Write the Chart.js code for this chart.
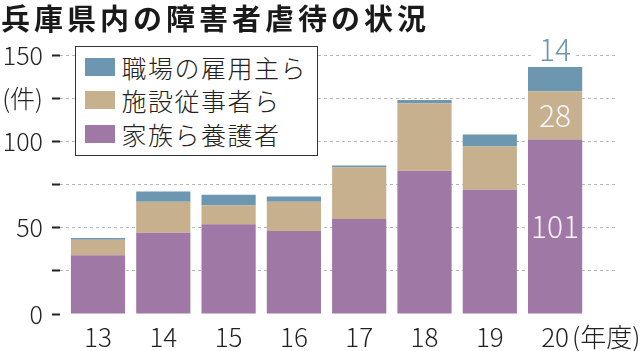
<!DOCTYPE html>
<html lang="ja">
<head>
<meta charset="utf-8">
<script src="https://cdn.jsdelivr.net/npm/chart.js@4.4.1/dist/chart.umd.min.js"></script>
<style>
  html,body{margin:0;padding:0;background:#fff;}
  #wrap{position:relative;width:640px;height:351px;overflow:hidden;font-family:"Noto Sans CJK JP",sans-serif;}
  #chart{position:absolute;left:0;top:0;}
  #title{position:absolute;left:1px;top:-2px;font-size:29px;font-weight:700;letter-spacing:4px;color:#1a1a1a;line-height:38px;white-space:nowrap;}
  #legend{position:absolute;left:75px;top:46px;width:243px;height:110px;box-sizing:border-box;border:1.5px solid #333;background:#fff;padding-top:3px;}
  .row{display:flex;align-items:center;height:33.5px;}
  .sw{width:30px;height:18px;margin-left:8.5px;margin-right:7px;}
  .lbl{font-size:25px;font-weight:300;letter-spacing:1.5px;color:#222;line-height:30px;}
</style>
</head>
<body>
<div id="wrap">
  <canvas id="chart" width="640" height="351"></canvas>
  <div id="title">兵庫県内の障害者虐待の状況</div>
  <div id="legend"></div>
</div>
<script>
// 年度ごとの件数
const years = [13, 14, 15, 16, 17, 18, 19, 20];
const family = [34, 47, 52, 48, 55, 83, 72, 101];   // 家族ら養護者
const facility = [9, 18, 11, 17, 30, 39, 25, 28];   // 施設従事者ら
const employer = [1, 6, 6, 3, 1, 2, 7, 14];         // 職場の雇用主ら

const seriesNames = ['家族ら養護者', '施設従事者ら', '職場の雇用主ら'];
const seriesColors = ['#a078a5', '#c6b08e', '#6d96b0'];

const yTicks = [0, 25, 50, 75, 100, 125, 150];
const yTickLabels = ['0', '', '50', '', '100', '(件)', '150'];

const FONT = '"Noto Sans CJK JP", "Noto Sans", sans-serif';

// legend (top entry = top of the stack)
const elLegend = document.getElementById('legend');
[2, 1, 0].forEach(i => {
  const row = document.createElement('div'); row.className = 'row';
  const sw = document.createElement('span'); sw.className = 'sw'; sw.style.background = seriesColors[i];
  const lb = document.createElement('span'); lb.className = 'lbl'; lb.textContent = seriesNames[i];
  row.appendChild(sw); row.appendChild(lb);
  elLegend.appendChild(row);
});

const pts = arr => arr.map((v, i) => ({ x: years[i], y: v }));

// numbers on the last bar + "(年度)" after the last tick
const valueLabels = {
  id: 'valueLabels',
  afterDatasetsDraw(chart) {
    const ctx = chart.ctx;
    const last = years.length - 1;
    ctx.save();
    ctx.font = '300 30px ' + FONT;
    ctx.textAlign = 'center'; ctx.textBaseline = 'middle';
    chart.data.datasets.forEach((ds, i) => {
      const bar = chart.getDatasetMeta(i).data[last];
      const v = String(ds.data[last].y);
      if (i < 2) {
        ctx.fillStyle = '#fbf5fa';
        ctx.fillText(v, bar.x, (bar.y + bar.base) / 2);
      } else {
        const y = bar.y - 17;
        const w = ctx.measureText(v).width;
        ctx.fillStyle = '#fff';
        ctx.fillRect(bar.x - w / 2 - 5, y - 12, w + 10, 24);
        ctx.fillStyle = seriesColors[2];
        ctx.fillText(v, bar.x, y);
      }
    });
    const xs = chart.scales.x;
    ctx.font = '300 26px ' + FONT; ctx.fillStyle = '#222'; ctx.textAlign = 'left';
    ctx.fillText('(年度)', xs.getPixelForValue(years[last]) + 17, xs.top + 10 + 13);
    ctx.restore();
  }
};

new Chart(document.getElementById('chart').getContext('2d'), {
  type: 'bar',
  data: {
    datasets: [
      { label: seriesNames[0], data: pts(family), backgroundColor: seriesColors[0] },
      { label: seriesNames[1], data: pts(facility), backgroundColor: seriesColors[1] },
      { label: seriesNames[2], data: pts(employer), backgroundColor: seriesColors[2] }
    ]
  },
  options: {
    responsive: false, animation: false,
    datasets: { bar: { barPercentage: 0.83, categoryPercentage: 1, borderWidth: 0 } },
    layout: { padding: { top: 55, right: 23, bottom: 1, left: 0 } },
    plugins: { legend: { display: false }, tooltip: { enabled: false } },
    scales: {
      x: {
        type: 'linear', stacked: true, offset: false, min: 12.418, max: 20.948,
        afterBuildTicks: s => { s.ticks = years.map(v => ({ value: v })); },
        afterFit: s => { s.height = 36; },
        grid: { display: false, drawTicks: false }, border: { display: false },
        ticks: { callback: v => String(v), color: '#222', padding: 10, autoSkip: false, maxRotation: 0,
                 font: { family: FONT, size: 26, weight: 300, lineHeight: 1 } }
      },
      y: {
        stacked: true, min: 0, max: 150,
        afterBuildTicks: s => { s.ticks = yTicks.map(v => ({ value: v })); },
        afterFit: s => { s.width = 60; },
        grid: {
          color: c => (c.tick && c.tick.value === 0) ? 'rgba(0,0,0,0)' : '#b8b8b8',
          lineWidth: 1, tickColor: '#222', tickWidth: 2, tickLength: 8, tickBorderDash: []
        },
        border: { display: false, dash: [3, 3] },
        ticks: { callback: v => yTickLabels[yTicks.indexOf(v)], color: '#222', padding: 9,
                 font: { family: FONT, size: 25, weight: 300 } }
      }
    }
  },
  plugins: [valueLabels]
});
</script>
</body>
</html>
